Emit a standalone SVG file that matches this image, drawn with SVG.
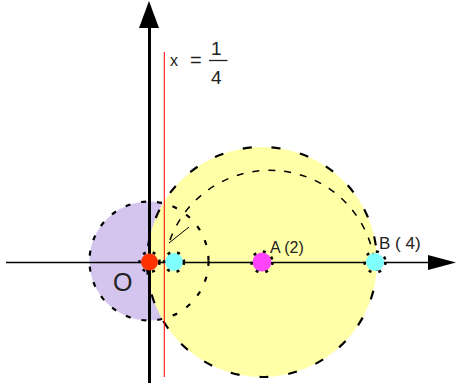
<svg xmlns="http://www.w3.org/2000/svg" width="459" height="383" viewBox="0 0 459 383">
<style>
text{font-family:"Liberation Sans",Arial,sans-serif;fill:#222}
.outline{fill:none;stroke:#000;stroke-width:2.2}
.ring{fill:none;stroke:#000;stroke-width:2.5;stroke-dasharray:3 7}
</style>
<rect width="459" height="383" fill="#fff"/>
<g id="circle-O">
<circle cx="149" cy="261" r="59.5" fill="#D3C5EE"/>
</g>
<g id="circle-A">
<circle cx="262" cy="262" r="115" fill="#FFFFA8"/>
</g>
<g id="outlines">
<circle class="outline" cx="149" cy="261" r="59.5" stroke-dasharray="5 11"/>
<circle class="outline" cx="262" cy="262" r="115" stroke-dasharray="9 20"/>
<path d="M170 240 A106 106 0 0 1 374 258" fill="none" stroke="#000" stroke-width="1.5" stroke-dasharray="7 9"/>
<line x1="169" y1="243" x2="189" y2="227" stroke="#000" stroke-width="1"/>
</g>
<g id="connectors">
<line x1="149.5" y1="26" x2="149.5" y2="383" stroke="#000" stroke-width="3"/>
<polygon points="149,1 139,28 159,28" fill="#000"/>
<line x1="6" y1="262.5" x2="432" y2="262.5" stroke="#000" stroke-width="1.5"/>
<polygon points="456,262.5 428,255 428,270" fill="#000"/>
<line x1="164.3" y1="52" x2="164.3" y2="377" stroke="#FF0000" stroke-width="1"/>
</g>
<g id="label-line">
<text x="170" y="66" font-size="16">x</text>
<text x="190" y="67" font-size="20">=</text>
<text x="211" y="55" font-size="19">1</text>
<line x1="209" y1="60.5" x2="227.5" y2="60.5" stroke="#222" stroke-width="1.3"/>
<text x="211" y="83.5" font-size="19">4</text>
</g>
<g id="point-O">
<circle cx="149.5" cy="262" r="8.5" fill="#FF3300"/>
<circle class="ring" cx="149.5" cy="262" r="10"/>
<text x="113" y="291" font-size="25">O</text>
</g>
<g id="point-C">
<circle cx="174" cy="262" r="9" fill="#80FFFF"/>
<circle class="ring" cx="174" cy="262" r="10"/>
</g>
<g id="point-A">
<circle cx="262" cy="262" r="9.5" fill="#FF44FF"/>
<circle class="ring" cx="262" cy="262" r="10.5"/>
<text x="270" y="253" font-size="16">A (2)</text>
</g>
<g id="point-B">
<circle cx="375" cy="262" r="9" fill="#80FFFF"/>
<circle class="ring" cx="375" cy="262" r="10.5"/>
<text x="379" y="249" font-size="17">B ( 4)</text>
</g>
</svg>
